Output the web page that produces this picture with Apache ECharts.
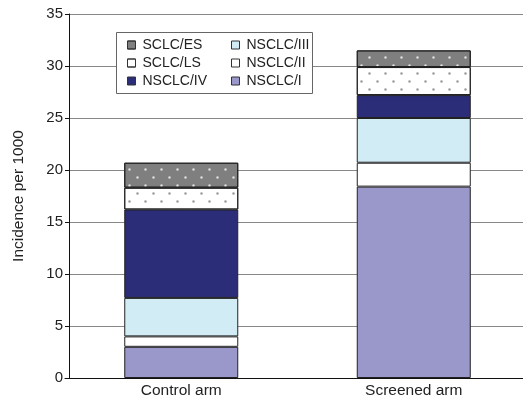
<!DOCTYPE html>
<html>
	<head>
		<meta charset="utf-8">
		<title>Incidence per 1000</title>
		<script src="https://cdn.jsdelivr.net/npm/echarts@6/dist/echarts.min.js"></script>
	</head>
	<body style="margin:0;overflow:hidden">
		<!-- a little wider than the window: the plot runs off the right edge -->
		<div id="main" style="width: 532px;height:405px;"></div>

		<script type="text/javascript">
			// data
			var categories = ['Control arm', 'Screened arm'];
			var stageNames = ['NSCLC/I', 'NSCLC/II', 'NSCLC/III', 'NSCLC/IV', 'SCLC/LS', 'SCLC/ES'];
			var nsclc1 = [3.0, 18.4];
			var nsclc2 = [1.0, 2.3];
			var nsclc3 = [3.7, 4.3];
			var nsclc4 = [8.5, 2.2];
			var sclcLS = [2.1, 2.7];
			var sclcES = [2.4, 1.6];
			var yTicks = [0, 5, 10, 15, 20, 25, 30, 35];

			var font = 'Liberation Sans, Arial, sans-serif';
			var dots = {
				symbol: 'circle',
				symbolSize: 0.8,
				dashArrayX: [[3, 13], [0, 8, 3, 5]],
				dashArrayY: [3, 5]
			};

			function bar(name, values, color, decal) {
				var style = { color: color, borderColor: '#222', borderWidth: 1 };
				if (decal) style.decal = decal;
				return {
					name: name,
					type: 'bar',
					stack: 'total',
					barWidth: 114,
					data: values,
					itemStyle: style
				};
			}

			var legendText = { fontFamily: font, fontSize: 14, lineHeight: 14, color: '#222', padding: [0, 0, 0, 2] };

			var myChart = echarts.init(document.getElementById('main'));
			var option = {
				animation: false,
				grid: { left: 65, top: 14, width: 465, bottom: 27 },
				graphic: [{
					type: 'rect',
					z: 3,
					shape: { x: 116.5, y: 32.5, width: 196, height: 61 },
					style: { fill: '#fff', stroke: '#666', lineWidth: 1 }
				}],
				legend: [{
					data: ['SCLC/ES', 'SCLC/LS', 'NSCLC/IV'],
					orient: 'vertical',
					left: 127, top: 38, padding: 0,
					itemWidth: 8, itemHeight: 8, itemGap: 4,
					icon: 'rect',
					itemStyle: { borderColor: '#333', borderWidth: 1 },
					textStyle: legendText
				}, {
					data: ['NSCLC/III', 'NSCLC/II', 'NSCLC/I'],
					orient: 'vertical',
					left: 231, top: 38, padding: 0,
					itemWidth: 8, itemHeight: 8, itemGap: 4,
					icon: 'rect',
					itemStyle: { borderColor: '#333', borderWidth: 1 },
					textStyle: legendText
				}],
				xAxis: {
					type: 'category',
					data: categories,
					axisLine: { lineStyle: { color: '#111', width: 1 } },
					axisTick: { length: 4, lineStyle: { color: '#111' } },
					axisLabel: { fontFamily: font, fontSize: 15.5, color: '#222', margin: 5 }
				},
				yAxis: {
					type: 'value',
					offset: -4,
					min: yTicks[0],
					max: yTicks[yTicks.length - 1],
					interval: 5,
					name: 'Incidence per 1000',
					nameLocation: 'middle',
					nameGap: 42,
					nameTextStyle: { fontFamily: font, fontSize: 15.5, color: '#222' },
					axisLine: { show: true, lineStyle: { color: '#111', width: 1 } },
					axisTick: { show: true, length: 4, lineStyle: { color: '#111' } },
					axisLabel: { fontFamily: font, fontSize: 15, color: '#222', margin: 6 },
					splitLine: { lineStyle: { color: '#888', width: 1 } }
				},
				series: [
					bar(stageNames[0], nsclc1, '#9a97cb'),
					bar(stageNames[1], nsclc2, '#ffffff'),
					bar(stageNames[2], nsclc3, '#d2ecf6'),
					bar(stageNames[3], nsclc4, '#2b2d78'),
					bar(stageNames[4], sclcLS, '#ffffff', Object.assign({ color: '#999' }, dots)),
					bar(stageNames[5], sclcES, '#7f7f7f', Object.assign({ color: '#e0e0e0' }, dots))
				]
			};

			myChart.setOption(option);
		</script>
	</body>
</html>
